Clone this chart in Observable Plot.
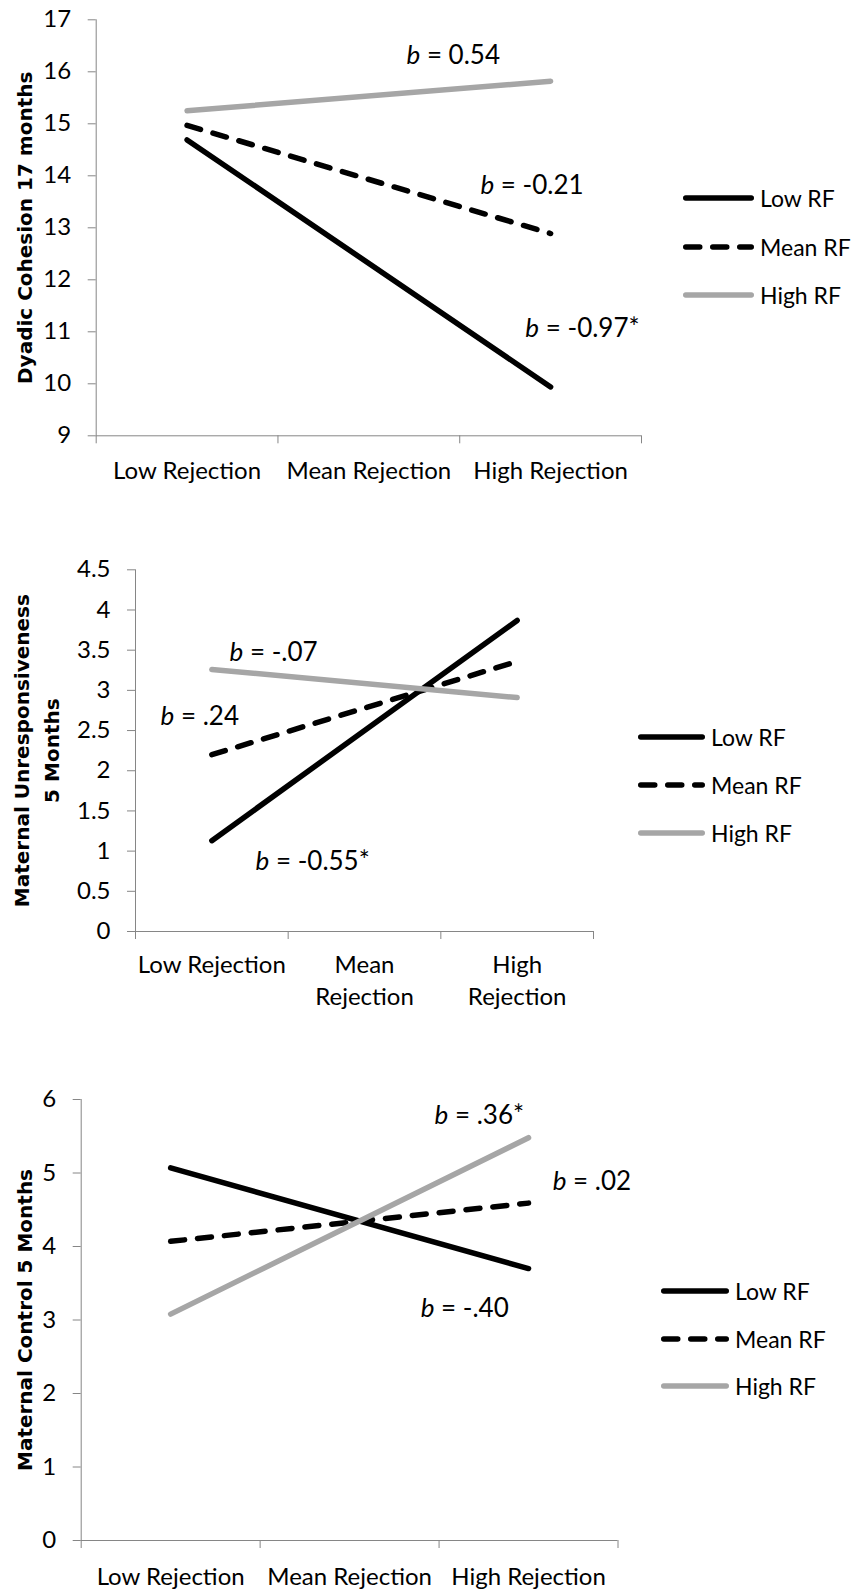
<!DOCTYPE html>
<html><head><meta charset="utf-8">
<script src="https://cdn.jsdelivr.net/npm/d3@7"></script>
<script src="https://cdn.jsdelivr.net/npm/@observablehq/plot@0.6"></script>
<style>
body{margin:0;background:#fff;font-family:Lato,sans-serif;}
.chart{position:relative;width:855px;}
.chart svg{display:block;}
.legend-row{position:absolute;display:flex;align-items:center;white-space:nowrap;font:23px Lato,sans-serif;color:#000;height:30px;}
.legend-row svg{display:block;}
</style></head><body><div id="root"></div>
<script>
// ---------- data ----------
const categories1 = ["Low Rejection", "Mean Rejection", "High Rejection"];
const categories2 = ["Low Rejection", "Mean\nRejection", "High\nRejection"];
const categories3 = ["Low Rejection", "Mean Rejection", "High Rejection"];
const pointCategoryIndex = [0, 2]; // values given at Low and High Rejection

const seriesNames = ["Low RF", "Mean RF", "High RF"];

// Chart 1: Dyadic Cohesion 17 months
const cohesionLowRF = [14.69, 9.94];
const cohesionMeanRF = [14.97, 12.89];
const cohesionHighRF = [15.25, 15.82];
const cohesionTicks = [9, 10, 11, 12, 13, 14, 15, 16, 17];
const cohesionAnnText = ["b = 0.54", "b = -0.21", "b = -0.97*"];
const cohesionAnnX = [1.707, 2.114, 2.361];
const cohesionAnnY = [16.31, 13.81, 11.06];

// Chart 2: Maternal Unresponsiveness 5 Months
const unrespLowRF = [1.13, 3.87];
const unrespMeanRF = [2.20, 3.36];
const unrespHighRF = [3.26, 2.91];
const unrespTicks = [0, 0.5, 1, 1.5, 2, 2.5, 3, 3.5, 4, 4.5];
const unrespAnnText = ["b = -.07", "b = .24", "b = -0.55*"];
const unrespAnnX = [0.616, 0.164, 0.786];
const unrespAnnY = [3.475, 2.667, 0.863];

// Chart 3: Maternal Control 5 Months
const controlLowRF = [5.07, 3.70];
const controlMeanRF = [4.07, 4.59];
const controlHighRF = [3.08, 5.48];
const controlTicks = [0, 1, 2, 3, 4, 5, 6];
const controlAnnText = ["b = .36*", "b = .02", "b = -.40"];
const controlAnnX = [1.975, 2.635, 1.897];
const controlAnnY = [5.78, 4.88, 3.15];

// ---------- styles ----------
const seriesColors = ["#000000", "#000000", "#a6a6a6"];
const seriesDash = [null, "14,13", null];
const axisColor = "#868686";

const charts = [
  {title: "Dyadic Cohesion 17 months", cats: categories1, vals: [cohesionLowRF, cohesionMeanRF, cohesionHighRF],
   ticks: cohesionTicks, yDomain: [9, 17], annText: cohesionAnnText, annX: cohesionAnnX, annY: cohesionAnnY,
   height: 500, mt: 19.3, mb: 64.7, ml: 95.7, mr: 214, titleX: 22, labelPad: 20,
   legendX: 683, legendW: 71, legendY: [198, 246.7, 295]},
  {title: "Maternal Unresponsiveness\n5 Months", cats: categories2, vals: [unrespLowRF, unrespMeanRF, unrespHighRF],
   ticks: unrespTicks, yDomain: [0, 4.5], annText: unrespAnnText, annX: unrespAnnX, annY: unrespAnnY,
   height: 540, mt: 69.3, mb: 109, ml: 135, mr: 262, titleX: 34, labelPad: 18,
   legendX: 638, legendW: 67, legendY: [236.7, 285, 333]},
  {title: "Maternal Control 5 Months", cats: categories3, vals: [controlLowRF, controlMeanRF, controlHighRF],
   ticks: controlTicks, yDomain: [0, 6], annText: controlAnnText, annX: controlAnnX, annY: controlAnnY,
   height: 551, mt: 59, mb: 51, ml: 80.7, mr: 237.5, titleX: 21.5, labelPad: 21,
   legendX: 661, legendW: 68, legendY: [250.5, 298.7, 346]}
];

const root = document.getElementById("root");

for (const c of charts) {
  const rows = [];
  c.vals.forEach((arr, s) => arr.forEach((v, i) => rows.push({series: seriesNames[s], x: pointCategoryIndex[i] + 0.5, y: v})));
  const ann = c.annText.map((t, i) => ({text: t, x: c.annX[i], y: c.annY[i]}));

  const lineMarks = seriesNames.map((name, s) => Plot.line(rows.filter(d => d.series === name), {
    x: "x", y: "y", stroke: seriesColors[s], strokeWidth: 5.5, strokeLinecap: "round",
    strokeDasharray: seriesDash[s] || undefined
  }));

  const svg = Plot.plot({
    width: 855, height: c.height,
    marginTop: c.mt, marginBottom: c.mb, marginLeft: c.ml, marginRight: c.mr,
    style: {fontFamily: "Lato, sans-serif", fontSize: "24px", background: "white", color: "black", overflow: "visible"},
    x: {type: "linear", domain: [0, 3]},
    y: {type: "linear", domain: c.yDomain},
    marks: [
      Plot.ruleX([0], {stroke: axisColor, strokeWidth: 1}),
      Plot.ruleY([c.yDomain[0]], {stroke: axisColor, strokeWidth: 1}),
      Plot.axisY({ticks: c.ticks, tickSize: 8, tickPadding: 17, tickFormat: d => String(d), label: null,
                  stroke: axisColor, color: "black", fontSize: 24}),
      Plot.axisX({ticks: [0, 1, 2, 3], tickSize: 8, tickFormat: () => "", label: null, stroke: axisColor}),
      Plot.axisX({ticks: [0.5, 1.5, 2.5], tickSize: 0, tickPadding: c.labelPad, label: null,
                  tickFormat: d => c.cats[Math.floor(d)], color: "black", fontSize: 24, lineHeight: 1.35}),
      ...lineMarks,
      Plot.text(ann, {x: "x", y: "y", text: "text", textAnchor: "start", fontSize: 26, fill: "black"}),
      Plot.text([c.title], {text: d => d, frameAnchor: "left", rotate: -90, dx: c.titleX - c.ml,
                 textAnchor: "middle", lineAnchor: "middle", fontSize: 20, fontWeight: "bold",
                 fontFamily: "DejaVu Sans", lineHeight: 1.5, fill: "black"})
    ]
  });

  // italic "b" in annotations
  svg.querySelectorAll("text").forEach(t => {
    const s = t.textContent;
    if (s.startsWith("b = ") && t.children.length === 0) {
      t.textContent = "";
      const ns = "http://www.w3.org/2000/svg";
      const b = document.createElementNS(ns, "tspan");
      b.setAttribute("font-style", "italic");
      b.textContent = "b";
      const rest = document.createElementNS(ns, "tspan");
      rest.textContent = s.slice(1);
      t.style.whiteSpace = "pre";
      t.appendChild(b); t.appendChild(rest);
    }
  });

  const wrap = document.createElement("div");
  wrap.className = "chart";
  wrap.style.height = c.height + "px";
  wrap.appendChild(svg);

  seriesNames.forEach((name, s) => {
    const row = document.createElement("div");
    row.className = "legend-row";
    row.style.left = c.legendX + "px";
    row.style.top = (c.legendY[s] - 15) + "px";
    const sw = d3.create("svg").attr("width", c.legendW + 6).attr("height", 10);
    sw.append("line").attr("x1", 2.75).attr("x2", c.legendW - 2.75).attr("y1", 5).attr("y2", 5)
      .attr("stroke", seriesColors[s]).attr("stroke-width", 5.5).attr("stroke-linecap", "round")
      .attr("stroke-dasharray", seriesDash[s]);
    row.appendChild(sw.node());
    const lab = document.createElement("span");
    lab.textContent = name;
    row.appendChild(lab);
    wrap.appendChild(row);
  });

  root.appendChild(wrap);
}
</script></body></html>
